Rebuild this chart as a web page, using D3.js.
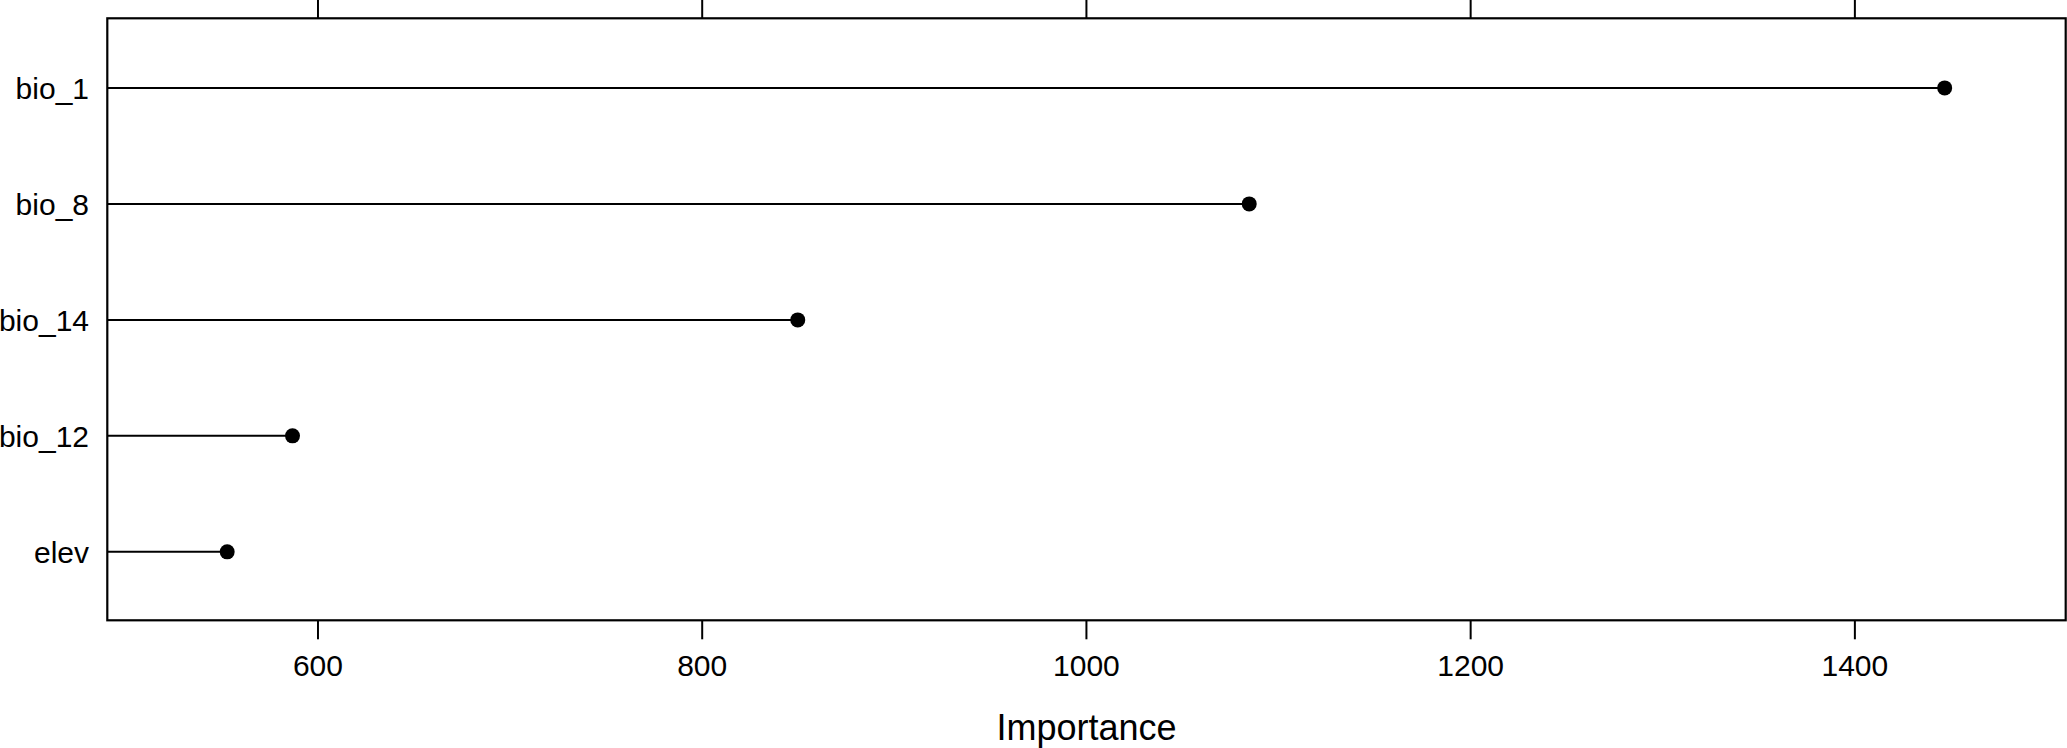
<!DOCTYPE html>
<html lang="en">
<head>
    <meta charset="UTF-8">
    <title>Importance</title>
    <script src="https://d3js.org/d3.v7.min.js"></script>
    <style>
        body { margin: 0; background: #ffffff; }
        text { font-family: Arial, "Liberation Sans", sans-serif; fill: #000; }
    </style>
</head>
<body>
<svg id="chart" width="2067" height="748"></svg>
<script>
    // values
    const variables = ["bio_1", "bio_8", "bio_14", "bio_12", "elev"];
    const importance = [1447, 1085, 850, 587, 553];
    const tickValues = [600, 800, 1000, 1200, 1400];

    const width = 2067;
    const height = 748;
    const boxLeft = 107.3, boxRight = 2065.7, boxTop = 18.3, boxBottom = 620.3;

    const svg = d3.select("#chart");

    const x = d3.scaleLinear().domain([490.6, 1510.0]).range([boxLeft, boxRight]);
    const y = d3.scaleLinear().domain([-0.6, 4.59]).range([boxTop, boxBottom]);

    // lollipop segments from the left edge of the box
    svg.selectAll(".stem")
        .data(variables)
        .enter().append("line")
        .attr("class", "stem")
        .attr("x1", boxLeft)
        .attr("x2", (d, i) => x(importance[i]))
        .attr("y1", (d, i) => y(i))
        .attr("y2", (d, i) => y(i))
        .attr("stroke", "#000")
        .attr("stroke-width", 2);

    svg.selectAll(".dot")
        .data(variables)
        .enter().append("circle")
        .attr("class", "dot")
        .attr("cx", (d, i) => x(importance[i]))
        .attr("cy", (d, i) => y(i))
        .attr("r", 7.5)
        .attr("fill", "#000");

    // category labels
    svg.selectAll(".label")
        .data(variables)
        .enter().append("text")
        .attr("class", "label")
        .attr("x", 89)
        .attr("y", (d, i) => y(i))
        .attr("dy", "0.37em")
        .attr("text-anchor", "end")
        .style("font-size", "30px")
        .text(d => d);

    // bottom axis
    const bottomAxis = svg.append("g")
        .attr("transform", `translate(0,${boxBottom})`)
        .call(d3.axisBottom(x).tickValues(tickValues).tickFormat(d3.format("d"))
            .tickSize(19).tickPadding(15));
    bottomAxis.select(".domain").remove();
    bottomAxis.selectAll("line").attr("stroke-width", 2);
    bottomAxis.selectAll("text")
        .style("font-size", "30px")
        .style("font-family", "Arial, 'Liberation Sans', sans-serif");

    // top axis (labels fall outside the picture)
    const topAxis = svg.append("g")
        .attr("transform", `translate(0,${boxTop})`)
        .call(d3.axisTop(x).tickValues(tickValues).tickSize(19).tickFormat(""));
    topAxis.select(".domain").remove();
    topAxis.selectAll("line").attr("stroke-width", 2);

    // box
    svg.append("rect")
        .attr("x", boxLeft)
        .attr("y", boxTop)
        .attr("width", boxRight - boxLeft)
        .attr("height", boxBottom - boxTop)
        .attr("fill", "none")
        .attr("stroke", "#000")
        .attr("stroke-width", 2.2);

    svg.append("text")
        .attr("x", (boxLeft + boxRight) / 2)
        .attr("y", 740)
        .attr("text-anchor", "middle")
        .style("font-size", "36px")
        .text("Importance");
</script>
</body>
</html>
